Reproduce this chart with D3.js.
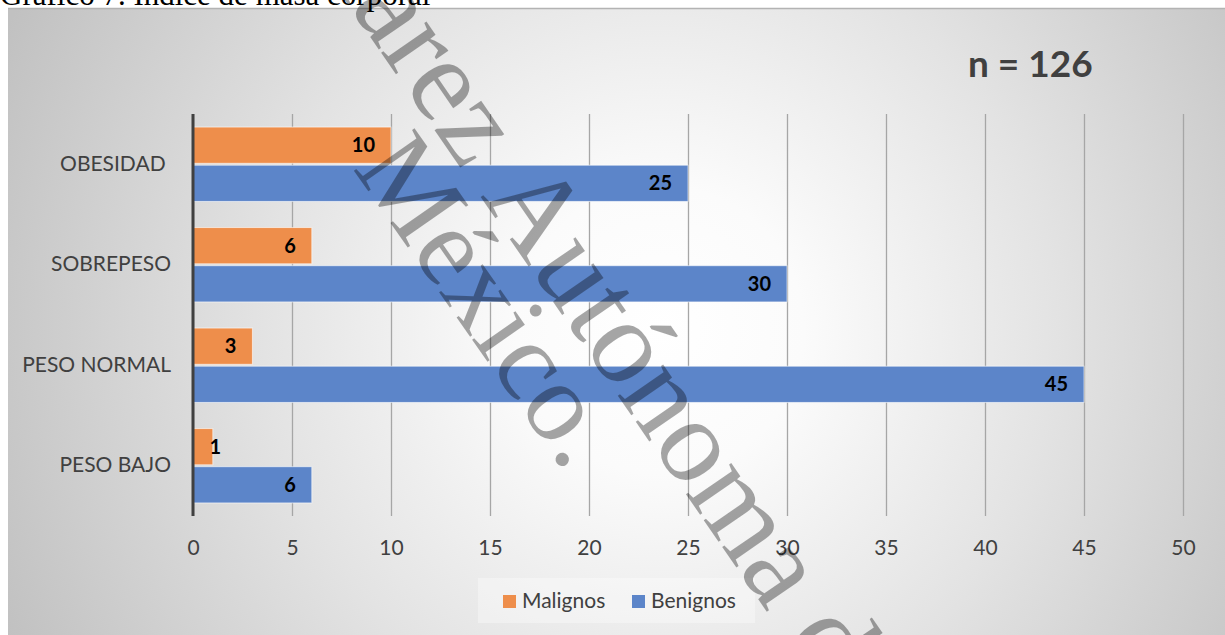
<!DOCTYPE html>
<html>
<head>
<meta charset="utf-8">
<script src="https://cdn.jsdelivr.net/npm/d3@7"></script>
<style>
  html, body { margin: 0; padding: 0; background: #fff; }
  svg { display: block; }
</style>
</head>
<body>
<svg id="chart" width="1225" height="635"></svg>
<script>
const categories = ["OBESIDAD ", "SOBREPESO", "PESO NORMAL", "PESO BAJO"];
const series = ["Malignos", "Benignos"];
const malignos = [10, 6, 3, 1];
const benignos = [25, 30, 45, 6];
const xTicks = [0, 5, 10, 15, 20, 25, 30, 35, 40, 45, 50];
const colors = ["#EE8E4B", "#5C85C9"];
const titleText = "Gráfico 7. Índice de masa corporal";
const nText = "n = 126";
const watermark1a = "Universidad Juárez";
const watermark1b = "Autónoma de Tabasco.";
const watermark2 = "México.";

const svg = d3.select("#chart");
const W = 1225, H = 635;

// background gradient
const defs = svg.append("defs");
const rg = defs.append("radialGradient").attr("id", "bg")
  .attr("gradientUnits", "userSpaceOnUse")
  .attr("cx", 660).attr("cy", 330).attr("r", 720);
[[0, "#ffffff"], [0.2, "#fbfbfb"], [0.55, "#e3e3e3"], [0.88, "#cacaca"], [1, "#c1c1c1"]]
  .forEach(([o, c]) => rg.append("stop").attr("offset", o).attr("stop-color", c));

svg.append("rect").attr("x", 8).attr("y", 8).attr("width", W).attr("height", H)
  .attr("fill", "url(#bg)");
svg.append("line").attr("x1", 8).attr("x2", W).attr("y1", 8.5).attr("y2", 8.5)
  .attr("stroke", "#b3b3b3").attr("stroke-width", 1.5);

// title (cut off at top, as in the reference)
svg.append("text").attr("x", 0).attr("y", 5)
  .attr("font-family", "'Liberation Serif', 'Times New Roman', serif")
  .attr("font-size", 31).attr("fill", "#000").text(titleText);

const x = d3.scaleLinear().domain([0, 50]).range([193, 1183]);
const y = d3.scaleBand().domain(categories).range([114, 516])
  .paddingInner(0.26).paddingOuter(0.13);
const ys = d3.scaleBand().domain(series).range([0, y.bandwidth()]).paddingInner(0.05);

// gridlines
const grid = svg.append("g").attr("transform", `translate(0,516)`)
  .call(d3.axisBottom(x).tickValues(xTicks).tickSize(-(516 - 114)).tickFormat(""));
grid.select(".domain").remove();
grid.selectAll(".tick line").attr("stroke", "#a6a6a6").attr("stroke-width", 1.3);

// x tick labels
const xa = svg.append("g").attr("transform", `translate(0,516)`)
  .call(d3.axisBottom(x).tickValues(xTicks).tickSize(0).tickPadding(24));
xa.select(".domain").remove();
xa.selectAll("text").attr("font-family", "Lato, 'Open Sans', sans-serif")
  .attr("font-size", 21).attr("fill", "#404040");

// bars
const rows = categories.map((c, i) => ({ cat: c, vals: [malignos[i], benignos[i]] }));
const groups = svg.append("g").selectAll("g").data(rows).join("g")
  .attr("transform", d => `translate(0,${y(d.cat)})`);
groups.selectAll("rect").data(d => d.vals.map((v, j) => ({ v, s: series[j], j })))
  .join("rect")
  .attr("x", x(0)).attr("y", d => ys(d.s))
  .attr("width", d => x(d.v) - x(0)).attr("height", ys.bandwidth())
  .attr("fill", d => colors[d.j])
  .attr("stroke", "#ffffff").attr("stroke-opacity", 0.6).attr("stroke-width", 1);
groups.selectAll("text.val").data(d => d.vals.map((v, j) => ({ v, s: series[j], j })))
  .join("text").attr("class", "val")
  .attr("x", d => Math.max(x(d.v) - 16, x(0) + 28))
  .attr("y", d => ys(d.s) + ys.bandwidth() / 2)
  .attr("dy", "0.35em").attr("text-anchor", "end")
  .attr("font-family", "Lato, 'Open Sans', sans-serif").attr("font-weight", "bold")
  .attr("font-size", 20).attr("fill", "#000").text(d => d.v);

// y axis
const ya = svg.append("g").attr("transform", `translate(${x(0)},0)`)
  .call(d3.axisLeft(y).tickSize(0).tickPadding(22));
ya.select(".domain").attr("stroke", "#404040").attr("stroke-width", 3)
  .attr("d", `M0,114V516`);
ya.selectAll("text").attr("font-family", "Lato, 'Open Sans', sans-serif")
  .attr("font-size", 21).attr("fill", "#404040").style("white-space", "pre");

// n label
svg.append("text").attr("x", 968).attr("y", 77)
  .attr("font-family", "Lato, 'Open Sans', sans-serif").attr("font-weight", "bold")
  .attr("font-size", 37).attr("fill", "#404040").text(nText);

// legend
const lg = svg.append("g");
lg.append("rect").attr("x", 478).attr("y", 578).attr("width", 277).attr("height", 45)
  .attr("fill", "#ffffff").attr("fill-opacity", 0.35);
const lx = [503, 632];
series.forEach((s, i) => {
  lg.append("rect").attr("x", lx[i]).attr("y", 595).attr("width", 13).attr("height", 13)
    .attr("fill", colors[i]);
  lg.append("text").attr("x", lx[i] + 19).attr("y", 608)
    .attr("font-family", "Lato, 'Open Sans', sans-serif")
    .attr("font-size", 21).attr("fill", "#404040").text(s);
});

// watermark
const wmFont = "'Liberation Serif', 'Times New Roman', serif";
const wm1 = svg.append("g").attr("transform", "translate(480,196) rotate(55.4)")
  .attr("font-family", wmFont)
  .attr("font-size", 120).attr("fill", "#000").attr("fill-opacity", 0.35);
wm1.append("text").attr("x", -30).attr("y", 0).attr("text-anchor", "end").text(watermark1a);
wm1.append("text").attr("x", 0).attr("y", 0).text(watermark1b);
const wm2 = svg.append("g").attr("transform", "translate(352,168) rotate(55)")
  .attr("font-family", wmFont)
  .attr("font-size", 113).attr("fill", "#000").attr("fill-opacity", 0.35);
wm2.append("text").attr("x", 0).attr("y", 0).text(watermark2);
</script>
</body>
</html>
